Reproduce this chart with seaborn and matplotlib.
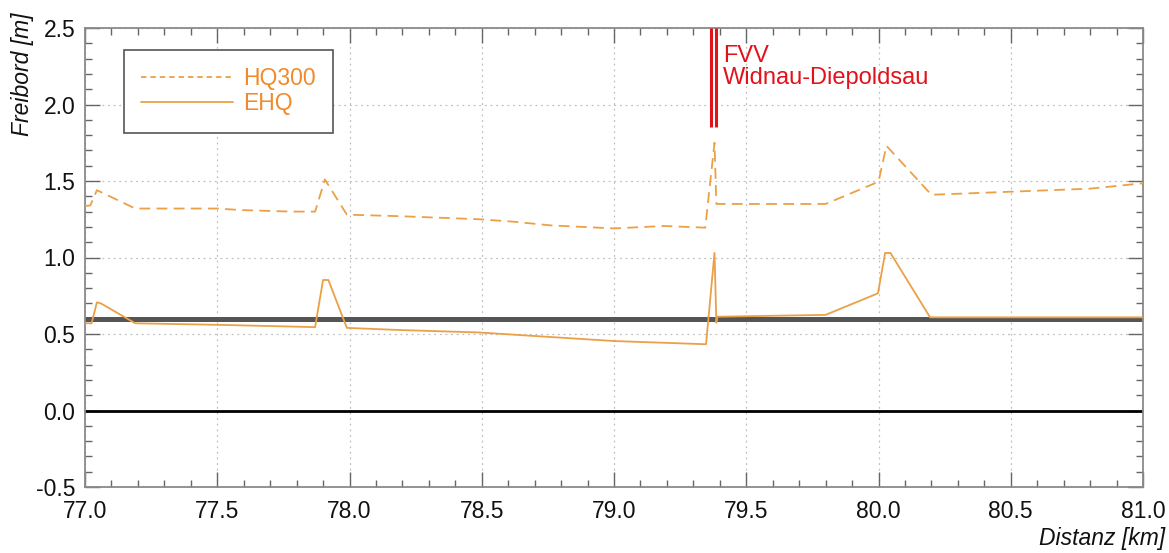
import numpy as np
import pandas as pd
import matplotlib
matplotlib.use("Agg")
import matplotlib.pyplot as plt
from matplotlib.ticker import MultipleLocator
import seaborn as sns

# ---------------- data ----------------
hq300_km = [77.0, 77.02, 77.045, 77.19, 77.5, 77.59, 77.78, 77.87, 77.907, 77.99,
            78.19, 78.49, 78.62, 78.76, 79.0, 79.19, 79.345, 79.38, 79.387,
            79.80, 80.0, 80.03, 80.20, 80.5, 80.80, 81.0]
hq300_fb = [1.337, 1.34, 1.44, 1.32, 1.32, 1.31, 1.30, 1.30, 1.51, 1.28,
            1.27, 1.25, 1.234, 1.21, 1.19, 1.206, 1.195, 1.75, 1.35,
            1.35, 1.495, 1.73, 1.41, 1.43, 1.45, 1.485]

ehq_km = [77.0, 77.025, 77.045, 77.06, 77.19, 77.5, 77.87, 77.90, 77.92, 77.99,
          78.19, 78.49, 79.0, 79.348, 79.38, 79.387, 79.39, 79.80, 79.998,
          80.025, 80.045, 80.195, 81.0]
ehq_fb = [0.57, 0.57, 0.707, 0.70, 0.57, 0.56, 0.545, 0.853, 0.853, 0.54,
          0.526, 0.51, 0.454, 0.433, 1.03, 0.574, 0.613, 0.625, 0.766,
          1.03, 1.03, 0.609, 0.609]

freeboard_min = 0.6
fvv_km = [79.365, 79.384]
fvv_label = "FVV\nWidnau-Diepoldsau"
series_labels = ["HQ300", "EHQ"]
x_ticks = [77.0, 77.5, 78.0, 78.5, 79.0, 79.5, 80.0, 80.5, 81.0]
y_ticks = [-0.5, 0.0, 0.5, 1.0, 1.5, 2.0, 2.5]

# ---------------- style ----------------
sns.set_theme(style="white")
plt.rcParams["font.family"] = ["Liberation Sans", "DejaVu Sans"]

ORANGE = "#EBA046"
ORANGE_TXT = "#F08A2A"
RED = "#E2121B"

fig = plt.figure(figsize=(11.69, 5.53), dpi=100)
ax = fig.add_axes([85 / 1169, 66 / 553, 1058 / 1169, 459 / 553])

ax.set_xlim(77.0, 81.0)
ax.set_ylim(-0.5, 2.5)

# grid
ax.grid(True, which="major", linestyle=(0, (1.5, 3)), color="#c0c0c0", linewidth=0.9, zorder=0)
ax.set_axisbelow(True)

# reference lines
ax.axhline(0.0, color="black", linewidth=2.0, zorder=2)
ax.axhline(freeboard_min, color="#555555", linewidth=3.6, zorder=2)

# series
df_hq = pd.DataFrame({"km": hq300_km, "fb": hq300_fb})
df_ehq = pd.DataFrame({"km": ehq_km, "fb": ehq_fb})
sns.lineplot(data=df_hq, x="km", y="fb", ax=ax, color=ORANGE, linewidth=1.3,
             estimator=None, sort=False, label=series_labels[0], zorder=3)
ax.lines[-1].set_dashes((6, 3.5))
sns.lineplot(data=df_ehq, x="km", y="fb", ax=ax, color=ORANGE, linewidth=1.3,
             estimator=None, sort=False, label=series_labels[1], zorder=3)

# FVV marker
ax.vlines(fvv_km, 1.85, 2.5, color=RED, linewidth=2.2, zorder=4)
ax.text(79.413, 2.39, fvv_label, color=RED, fontsize=17, va="top", ha="left",
        linespacing=1.0, zorder=5)

# ticks
ax.set_xticks(x_ticks)
ax.set_yticks(y_ticks)
ax.xaxis.set_minor_locator(MultipleLocator(0.1))
ax.yaxis.set_minor_locator(MultipleLocator(0.1))
ax.tick_params(which="both", direction="in", top=True, right=True, bottom=True, left=True,
               color="#666666", width=1.0)
ax.tick_params(which="major", length=10.8, labelsize=16.5, labelcolor="#111111")
ax.tick_params(axis="y", which="major", pad=7)
ax.tick_params(axis="x", which="major", pad=9)
ax.tick_params(which="minor", length=5)
ax.set_xticklabels([f"{v:.1f}" for v in x_ticks])
ax.set_yticklabels([f"{v:.1f}" for v in y_ticks])
for s in ax.spines.values():
    s.set_color("#8a8a8a")
    s.set_linewidth(1.3)
    s.set_visible(True)

ax.set_xlabel("")
ax.set_ylabel("")
fig.text(22 / 1169, 1 - 13 / 553, "Freibord [m]", rotation=90, ha="center", va="top",
         fontsize=16.5, style="italic", color="#111111")
fig.text(1165 / 1169, 1 - 545 / 553, "Distanz [km]", ha="right", va="baseline",
         fontsize=16.5, style="italic", color="#111111")

# legend
leg = ax.legend(loc="upper left", bbox_to_anchor=((124 - 85) / 1058, (487 - 50) / 459),
                borderaxespad=0, fontsize=16.5, handlelength=4.0, handletextpad=0.45,
                borderpad=0.75, labelspacing=0.1, fancybox=False, framealpha=1,
                edgecolor="#555555")
leg.get_frame().set_linewidth(1.2)
for t in leg.get_texts():
    t.set_color(ORANGE_TXT)
leg.get_lines()[0].set_dashes((3, 2.2))

fig.savefig("out.png", dpi=100)
